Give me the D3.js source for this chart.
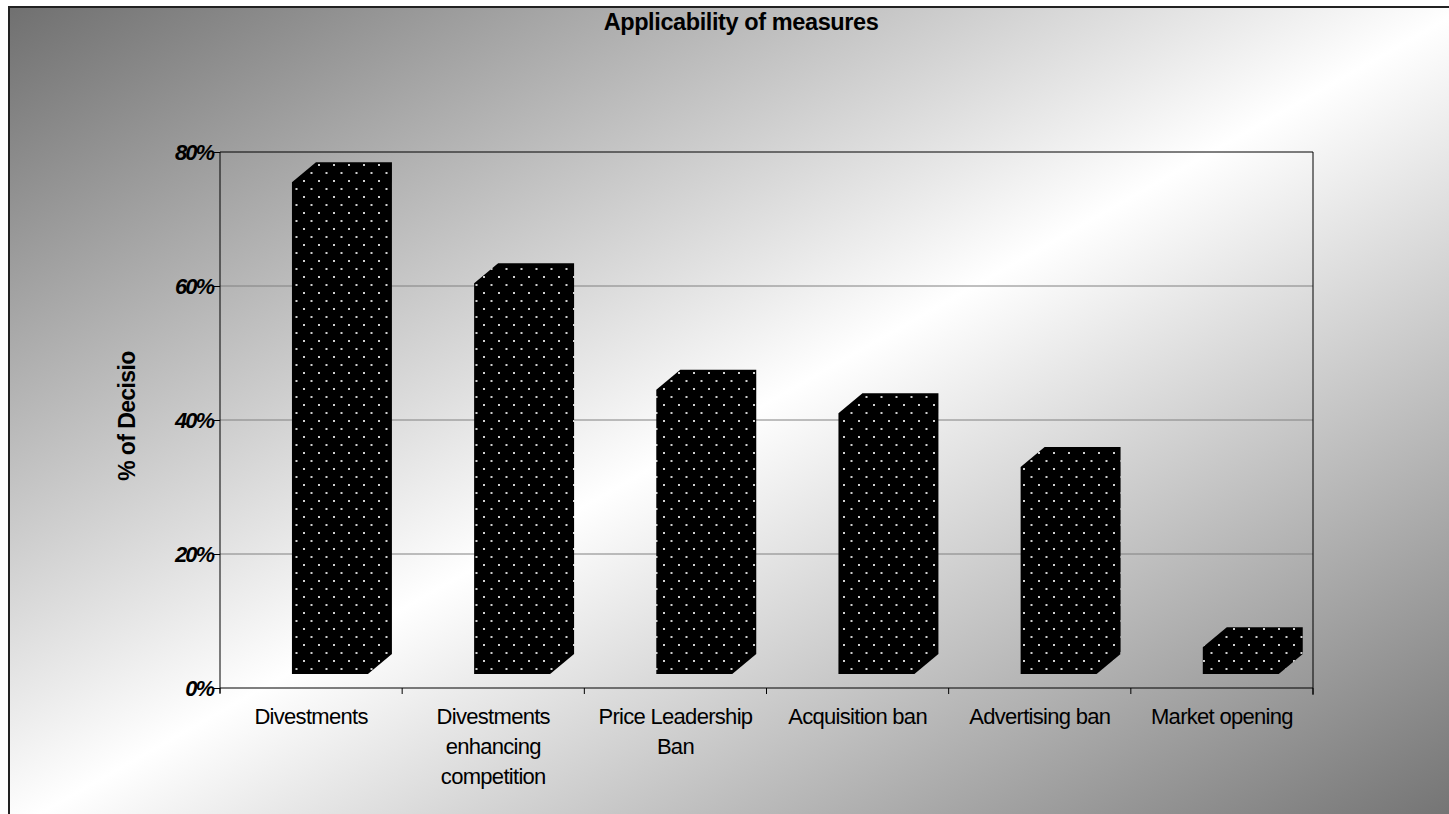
<!DOCTYPE html>
<html>
<head>
<meta charset="utf-8">
<script src="https://cdn.jsdelivr.net/npm/d3@7/dist/d3.min.js"></script>
<style>
  html, body { margin: 0; padding: 0; background: #fff; }
  svg { display: block; font-family: Arial, "Liberation Sans", sans-serif; }
</style>
</head>
<body>
<div id="chart"></div>
<script>
// chart data
var categories = ['Divestments', 'Divestments enhancing competition', 'Price Leadership Ban',
  'Acquisition ban', 'Advertising ban', 'Market opening'];
var labelLines = [['Divestments'], ['Divestments', 'enhancing', 'competition'], ['Price Leadership', 'Ban'],
  ['Acquisition ban'], ['Advertising ban'], ['Market opening']];
var shares = [0.755, 0.604, 0.445, 0.41, 0.33, 0.061];
var yTicks = [0, 0.2, 0.4, 0.6, 0.8];

var width = 1449, height = 814;
var plot = {left: 220, right: 1313, top: 152, bottom: 688};

var svg = d3.select('#chart').append('svg')
  .attr('width', width)
  .attr('height', height);

var defs = svg.append('defs');

var grad = defs.append('linearGradient')
  .attr('id', 'bg')
  .attr('x1', 0).attr('y1', 0).attr('x2', 1).attr('y2', 1);
grad.append('stop').attr('offset', 0).attr('stop-color', '#707070');
grad.append('stop').attr('offset', 0.5).attr('stop-color', '#ffffff');
grad.append('stop').attr('offset', 1).attr('stop-color', '#707070');

// black fill with white dots
var pat = defs.append('pattern')
  .attr('id', 'dots')
  .attr('patternUnits', 'userSpaceOnUse')
  .attr('width', 15).attr('height', 16);
pat.append('rect').attr('width', 15).attr('height', 16).attr('fill', '#000');
pat.append('rect').attr('x', 3).attr('y', 4).attr('width', 2).attr('height', 2).attr('fill', '#cfcfcf');
pat.append('rect').attr('x', 10.5).attr('y', 12).attr('width', 2).attr('height', 2).attr('fill', '#cfcfcf');

// chart area
svg.append('rect')
  .attr('x', 9).attr('y', 7)
  .attr('width', width + 10).attr('height', height + 10)
  .attr('fill', 'url(#bg)')
  .attr('stroke', '#222')
  .attr('stroke-width', 2);

svg.append('text')
  .attr('x', 741).attr('y', 30)
  .attr('text-anchor', 'middle')
  .attr('font-size', 23.5)
  .attr('font-weight', 'bold')
  .attr('letter-spacing', -0.4)
  .text('Applicability of measures');

var x = d3.scaleBand()
  .domain(categories)
  .range([plot.left, plot.right]);

var y = d3.scaleLinear()
  .domain([0, 0.8])
  .range([plot.bottom, plot.top]);

// gridlines
svg.append('g').selectAll('line')
  .data(yTicks.filter(function(d) { return d > 0; }))
  .enter().append('line')
  .attr('x1', plot.left).attr('x2', plot.right)
  .attr('y1', function(d) { return y(d); })
  .attr('y2', function(d) { return y(d); })
  .attr('stroke', function(d) { return d === 0.8 ? '#000' : '#808080'; })
  .attr('stroke-width', 1);

svg.append('line')
  .attr('x1', plot.right).attr('x2', plot.right)
  .attr('y1', plot.top).attr('y2', plot.bottom + 7)
  .attr('stroke', '#000');

// 3d columns: front face, top and side
var bw = x.bandwidth();
var off = bw * 0.395, fw = bw * 0.417, dx = 24, dy = 20, lift = 14;

var bars = svg.append('g').selectAll('g')
  .data(shares)
  .enter().append('g');

bars.append('path')
  .attr('fill', 'url(#dots)')
  .attr('d', function(d, i) {
    var x0 = x(categories[i]) + off, x1 = x0 + fw;
    var yb = y(0) - lift, yt = y(d);
    return 'M' + x0 + ',' + yb +
      'L' + x0 + ',' + yt +
      'L' + (x0 + dx) + ',' + (yt - dy) +
      'L' + (x1 + dx) + ',' + (yt - dy) +
      'L' + (x1 + dx) + ',' + (yb - dy) +
      'L' + x1 + ',' + yb + 'Z';
  });

// axes
var yAxis = d3.axisLeft(y)
  .tickValues(yTicks)
  .tickSize(6)
  .tickFormat(d3.format('.0%'));

var gy = svg.append('g')
  .attr('transform', 'translate(' + plot.left + ',0)')
  .call(yAxis);
gy.select('.domain').remove();
gy.append('line')
  .attr('y1', plot.top).attr('y2', plot.bottom + 5)
  .attr('stroke', '#000');
gy.selectAll('.tick line').attr('stroke', '#000');
gy.selectAll('.tick text')
  .attr('x', -7)
  .attr('dy', '0.36em')
  .attr('fill', '#000')
  .attr('font-family', 'Arial, "Liberation Sans", sans-serif')
  .attr('font-size', 22)
  .attr('font-weight', 'bold')
  .attr('font-style', 'italic')
  .attr('letter-spacing', -2);

var xAxis = d3.axisBottom(x).tickSize(0).tickFormat('');
var gx = svg.append('g')
  .attr('transform', 'translate(0,' + plot.bottom + ')')
  .call(xAxis);
gx.select('.domain')
  .attr('d', 'M' + plot.left + ',0H' + plot.right)
  .attr('stroke', '#000');

gx.selectAll('.sep')
  .data(d3.range(categories.length + 1))
  .enter().append('line')
  .attr('class', 'sep')
  .attr('x1', function(i) { return plot.left + i * bw; })
  .attr('x2', function(i) { return plot.left + i * bw; })
  .attr('y1', 0).attr('y2', 6)
  .attr('stroke', '#000');

var labels = svg.append('g').selectAll('text')
  .data(labelLines)
  .enter().append('text')
  .attr('text-anchor', 'middle')
  .attr('font-size', 22)
  .attr('letter-spacing', -0.7)
  .attr('fill', '#000')
  .attr('transform', function(d, i) {
    return 'translate(' + (x(categories[i]) + bw / 2) + ',724)';
  });

labels.selectAll('tspan')
  .data(function(d) { return d; })
  .enter().append('tspan')
  .attr('x', 0)
  .attr('y', function(d, j) { return j * 30; })
  .text(function(d) { return d; });

svg.append('text')
  .attr('transform', 'translate(135,416) rotate(-90)')
  .attr('text-anchor', 'middle')
  .attr('font-size', 23)
  .attr('font-weight', 'bold')
  .attr('letter-spacing', -0.6)
  .text('% of Decisio');
</script>
</body>
</html>
